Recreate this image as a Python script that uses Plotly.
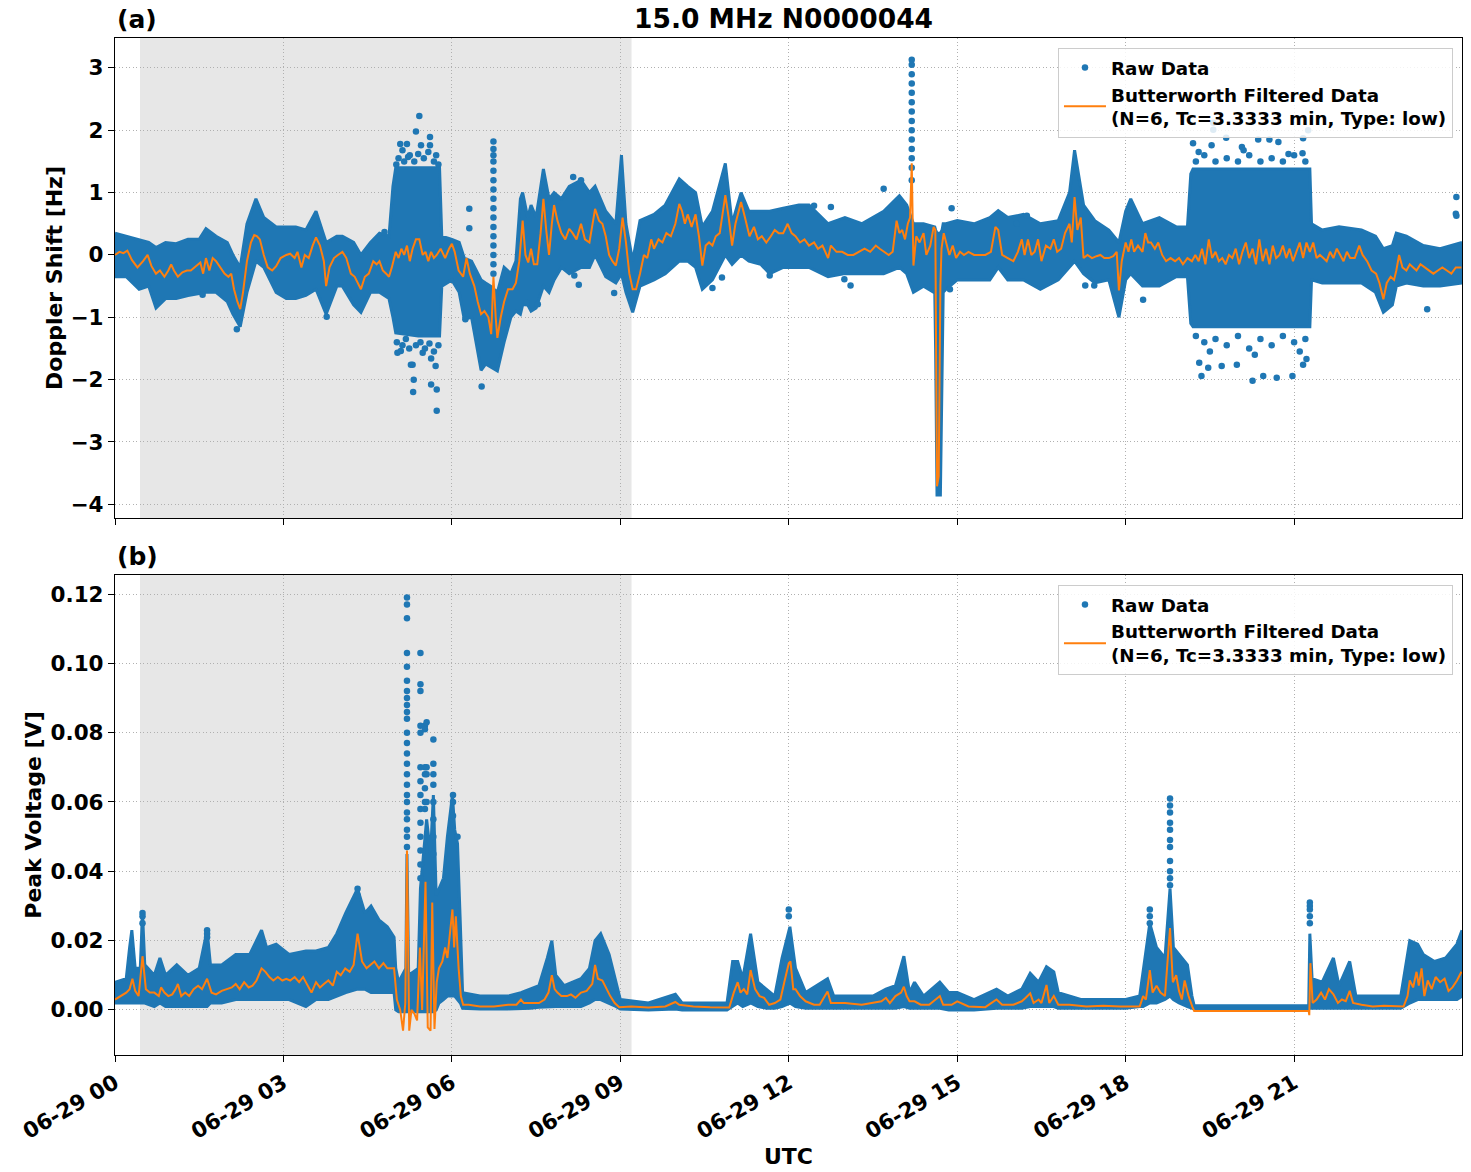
import numpy as np
import pandas as pd
import plotly.graph_objects as go

BASE = pd.Timestamp("2024-06-29 00:00:00")

# ---------------- Panel (a): Doppler shift ----------------
# raw-data envelope (hours, lower edge, upper edge)
BAND_A_T = [0.00, 0.20, 0.43, 0.60, 0.73, 0.90, 1.09, 1.30, 1.50, 1.62, 1.80, 2.00, 2.10, 2.23, 2.35, 2.51,
            2.65, 2.87, 3.05, 3.22, 3.40, 3.58, 3.76, 3.95, 4.05, 4.25, 4.38, 4.55, 4.71, 4.88, 4.95, 5.00,
            5.40, 5.78, 5.82, 6.00, 6.13, 6.22, 6.35, 6.52, 6.60, 6.69, 6.81, 6.93, 7.05,
            7.14, 7.22, 7.26, 7.35, 7.41, 7.50, 7.63, 7.73, 7.82, 7.95, 8.09, 8.30, 8.45, 8.55, 8.74, 8.92,
            9.02, 9.10, 9.22, 9.35, 9.60, 9.80, 10.05, 10.20, 10.34, 10.46, 10.64, 10.87, 10.99, 11.15,
            11.29, 11.50, 11.66, 11.90, 12.18, 12.36, 12.70, 13.00, 13.30, 13.69, 13.97, 14.10, 14.22,
            14.40, 14.58, 14.60, 14.615, 14.64, 14.70, 14.73, 14.75, 14.80, 15.00, 15.30, 15.58, 15.73, 15.90, 16.18, 16.48,
            16.80, 17.00, 17.09, 17.25, 17.45, 17.70, 17.88, 18.00, 18.09, 18.30, 18.60, 18.90, 19.10,
            19.16, 19.20, 21.28, 21.31, 21.50, 21.80, 22.20, 22.45, 22.59, 22.75, 22.82, 23.00, 23.30,
            23.60, 23.99]
BAND_A_LO = [-0.35, -0.35, -0.55, -0.50, -0.85, -0.70, -0.70, -0.65, -0.62, -0.60, -0.60, -0.75, -0.95, -1.15, -0.60, -0.10,
             -0.20, -0.60, -0.70, -0.70, -0.65, -0.55, -0.95, -0.50, -0.50, -0.80, -0.92, -0.60, -0.60, -0.70, -1.00, -1.25,
             -1.30, -1.30, -0.50, -0.40, -0.60, -1.03, -1.00, -1.85, -1.75, -1.80, -1.86, -1.40, -1.00,
             -0.90, -0.95, -0.80, -0.80, -0.90, -0.85, -0.50, -0.60, -0.40, -0.20, -0.30, -0.20, -0.20, 0.00, -0.35, -0.45,
             -0.30, -0.60, -0.92, -0.50, -0.40, -0.30, -0.10, -0.10, -0.20, -0.55, -0.40, 0.00, -0.15, 0.00,
             -0.10, -0.15, -0.30, -0.20, -0.20, -0.20, -0.35, -0.30, -0.30, -0.30, -0.20, -0.30, -0.60,
             -0.50, -0.60, -0.60, -1.50, -3.85, -3.85, -1.50, -0.60, -0.55, -0.40, -0.40, -0.40, -0.20, -0.40, -0.40, -0.55,
             -0.40, -0.20, -0.10, -0.30, -0.45, -0.40, -1.00, -0.40, -0.30, -0.50, -0.50, -0.35, -0.35,
             -1.10, -1.15, -1.15, -0.40, -0.45, -0.45, -0.45, -0.60, -0.92, -0.80, -0.50, -0.45, -0.50,
             -0.50, -0.45]
BAND_A_HI = [0.35, 0.30, 0.25, 0.20, 0.12, 0.20, 0.18, 0.25, 0.25, 0.42, 0.30, 0.20, 0.00, -0.20, 0.50, 0.90,
             0.60, 0.45, 0.45, 0.45, 0.40, 0.70, 0.20, 0.30, 0.30, 0.20, 0.00, 0.20, 0.35, 0.30, 1.10, 1.40,
             1.40, 1.40, 0.30, 0.25, 0.20, -0.05, -0.10, -0.40, -0.45, -0.50, -0.60, -0.20, -0.30,
             -0.10, 0.90, 1.00, 0.60, 0.80, 0.60, 1.38, 0.90, 1.00, 0.90, 1.10, 1.20, 1.00, 1.10, 0.70, 0.50,
             1.60, 0.50, -0.10, 0.55, 0.65, 0.80, 1.22, 1.10, 1.00, 0.45, 0.70, 1.47, 0.50, 1.00,
             0.70, 0.70, 0.70, 0.75, 0.80, 0.80, 0.50, 0.60, 0.50, 0.70, 0.95, 0.80, 0.50,
             0.50, 0.45, 0.45, 0.40, 0.35, 0.35, 0.40, 0.50, 0.50, 0.55, 0.50, 0.60, 0.71, 0.60, 0.65, 0.50,
             0.55, 1.00, 1.68, 0.80, 0.55, 0.40, 0.20, 0.70, 0.90, 0.50, 0.60, 0.45, 0.45,
             1.30, 1.38, 1.38, 0.50, 0.40, 0.45, 0.40, 0.30, 0.10, 0.15, 0.35, 0.30, 0.15,
             0.10, 0.20]
# isolated raw points (hours, Hz)
PTS_A_T = [5.42, 5.36, 5.61, 5.08, 5.20, 5.45, 5.61, 5.72, 5.12, 5.22, 5.03, 5.09, 5.30, 5.32, 5.31, 5.63,
           5.73, 5.73, 5.71, 5.63, 5.48, 5.27, 2.17, 1.56, 3.77, 4.80,
           5.05, 5.15, 5.25, 5.33, 5.50, 5.58, 5.68, 5.76, 5.01, 5.40,
           5.02, 5.12, 5.18, 5.24, 5.36, 5.44, 5.52, 5.60, 5.68, 5.76,
           6.31, 6.31, 6.53, 6.24, 8.16, 8.30, 8.18, 8.26, 8.89, 10.64, 10.81, 11.66, 7.33, 7.53,
           6.74, 6.74, 6.74, 6.74, 6.74, 6.74, 6.74, 6.74, 6.74, 6.74, 6.74, 6.74, 6.74, 6.74, 6.74, 6.74,
           13.69, 13.10, 12.99, 14.87, 14.90, 17.28, 17.44, 16.24, 16.06, 12.75, 12.45,
           14.19, 14.19, 14.19, 14.19, 14.19, 14.19, 14.19, 14.19, 14.19, 14.19, 14.19, 14.19, 14.19, 14.19,
           19.20, 19.56, 19.56, 21.16, 21.25, 19.53, 19.79, 20.07, 20.36, 20.56, 20.72, 21.15,
           19.35, 19.47, 20.26, 20.69, 20.97, 21.16, 21.22, 19.98, 20.45, 19.71, 19.31,
           19.25, 19.40, 19.60, 19.80, 20.00, 20.20, 20.40, 20.60, 20.80, 21.00, 21.20, 19.30, 20.10, 20.90,
           19.25, 19.40, 19.60, 19.80, 20.00, 20.20, 20.40, 20.60, 20.80, 21.00, 21.20, 19.50, 20.30, 21.10,
           18.31, 23.37, 23.89, 23.89, 23.88]
PTS_A_V = [2.23, 1.98, 1.89, 1.78, 1.78, 1.76, 1.76, 1.60, 1.68, 1.57, -1.57, -1.54, -1.76, -2.00, -2.20, -2.08,
           -2.16, -2.50, -1.78, -1.66, -1.57, -1.76, -1.19, -0.64, -0.99, 0.37,
           1.55, 1.50, 1.60, 1.50, 1.55, 1.65, 1.50, 1.45, 1.45, 1.62,
           -1.40, -1.45, -1.35, -1.50, -1.45, -1.40, -1.50, -1.42, -1.55, -1.45,
           0.74, 0.43, -2.11, -1.03, 1.25, 1.20, -0.33, -0.48, -0.61, -0.53, -0.36, -0.33, -0.77, -0.79,
           1.82, 1.70, 1.60, 1.50, 1.35, 1.20, 1.05, 0.90, 0.75, 0.60, 0.45, 0.30, 0.15, 0.00, -0.15, -0.30,
           1.06, -0.49, -0.39, -0.55, 0.75, -0.49, -0.49, 0.63, 0.50, 0.77, 0.79,
           3.13, 3.05, 2.90, 2.75, 2.60, 2.45, 2.30, 2.15, 2.00, 1.85, 1.70, 1.55, 1.40, 1.20,
           1.79, 2.01, 2.12, 1.87, 2.00, 1.76, 1.88, 1.73, 1.85, 1.85, 1.81, 1.63,
           -1.94, -1.81, -2.02, -1.97, -1.94, -1.76, -1.67, -1.76, -1.94, -1.78, -1.73,
           1.50, 1.60, 1.50, 1.55, 1.50, 1.60, 1.50, 1.55, 1.50, 1.60, 1.50, 1.65, 1.68, 1.62,
           -1.30, -1.40, -1.35, -1.45, -1.30, -1.50, -1.35, -1.45, -1.30, -1.40, -1.35, -1.55, -1.60, -1.55,
           -0.72, -0.87, 0.93, 0.63, 0.66]
# Butterworth filtered curve (hours, Hz)
FILT_A_T = [0.00, 0.08, 0.15, 0.22, 0.30, 0.40, 0.50, 0.58, 0.65, 0.73, 0.80, 0.88, 0.95, 1.00, 1.05, 1.12,
            1.20, 1.28, 1.35, 1.45, 1.52, 1.57, 1.62, 1.68, 1.74, 1.80, 1.88, 1.95, 2.02, 2.07, 2.12, 2.18,
            2.23, 2.28, 2.35, 2.42, 2.48, 2.53, 2.58, 2.65, 2.72, 2.80, 2.87, 2.95, 3.05, 3.12, 3.20, 3.25,
            3.32, 3.38, 3.45, 3.52, 3.58, 3.65, 3.72, 3.76, 3.82, 3.90, 3.97, 4.05, 4.12, 4.20, 4.27, 4.33,
            4.38, 4.45, 4.52, 4.60, 4.66, 4.71, 4.77, 4.83, 4.88, 4.93, 5.00, 5.05, 5.10, 5.15, 5.20, 5.25,
            5.30, 5.36, 5.42, 5.48, 5.53, 5.58, 5.63, 5.68, 5.73, 5.80, 5.88, 5.95, 6.00, 6.05, 6.12, 6.20,
            6.26, 6.32, 6.40, 6.46, 6.52, 6.58, 6.65, 6.70, 6.74, 6.78, 6.81, 6.87, 6.93, 7.00, 7.08, 7.14,
            7.20, 7.26, 7.31, 7.36, 7.41, 7.46, 7.52, 7.58, 7.63, 7.68, 7.73, 7.78, 7.82, 7.88, 7.95, 8.02,
            8.09, 8.15, 8.22, 8.30, 8.37, 8.45, 8.55, 8.62, 8.68, 8.74, 8.80, 8.86, 8.92, 8.98, 9.04, 9.10,
            9.16, 9.22, 9.28, 9.35, 9.42, 9.48, 9.55, 9.60, 9.68, 9.75, 9.82, 9.90, 9.98, 10.05, 10.10, 10.15,
            10.20, 10.27, 10.34, 10.40, 10.46, 10.52, 10.58, 10.64, 10.70, 10.77, 10.87, 10.93, 10.99, 11.05,
            11.15, 11.22, 11.30, 11.38, 11.45, 11.52, 11.60, 11.68, 11.75, 11.82, 11.90, 11.98, 12.05, 12.12,
            12.20, 12.28, 12.36, 12.45, 12.52, 12.60, 12.70, 12.75, 12.85, 12.95, 13.05, 13.15, 13.25, 13.35,
            13.45, 13.55, 13.62, 13.70, 13.78, 13.85, 13.92, 13.97, 14.02, 14.07, 14.12, 14.16, 14.19, 14.22,
            14.27, 14.33, 14.40, 14.45, 14.52, 14.58, 14.61, 14.64, 14.67, 14.70, 14.72, 14.76, 14.80, 14.86, 14.92, 14.98,
            15.05, 15.12, 15.20, 15.30, 15.40, 15.50, 15.60, 15.68, 15.73, 15.80, 15.90, 16.00, 16.08, 16.15,
            16.20, 16.26, 16.32, 16.38, 16.44, 16.50, 16.58, 16.66, 16.72, 16.78, 16.85, 16.92, 17.00, 17.04,
            17.09, 17.14, 17.20, 17.25, 17.32, 17.40, 17.48, 17.55, 17.62, 17.70, 17.78, 17.84, 17.88, 17.93,
            18.00, 18.05, 18.10, 18.15, 18.22, 18.30, 18.35, 18.40, 18.45, 18.52, 18.58, 18.65, 18.72, 18.80,
            18.88, 18.95, 19.02, 19.10, 19.18, 19.24, 19.30, 19.36, 19.42, 19.48, 19.54, 19.60, 19.66, 19.72,
            19.78, 19.84, 19.90, 19.96, 20.02, 20.08, 20.14, 20.20, 20.26, 20.32, 20.38, 20.44, 20.50, 20.56,
            20.62, 20.68, 20.74, 20.80, 20.86, 20.92, 20.98, 21.04, 21.10, 21.16, 21.22, 21.28, 21.34, 21.40,
            21.46, 21.52, 21.58, 21.64, 21.70, 21.76, 21.82, 21.88, 21.94, 22.00, 22.08, 22.16, 22.22, 22.30,
            22.38, 22.46, 22.52, 22.59, 22.65, 22.72, 22.78, 22.82, 22.87, 22.93, 23.00, 23.06, 23.12, 23.18,
            23.25, 23.32, 23.40, 23.48, 23.56, 23.64, 23.72, 23.80, 23.88, 23.98]
FILT_A_V = [0.00, 0.05, 0.03, 0.07, -0.08, -0.20, -0.10, 0.00, -0.18, -0.30, -0.25, -0.35, -0.25, -0.15, -0.25, -0.35,
            -0.28, -0.25, -0.25, -0.18, -0.12, -0.30, -0.05, -0.25, -0.05, -0.10, -0.20, -0.30, -0.35, -0.30, -0.55, -0.75,
            -0.87, -0.60, -0.10, 0.20, 0.32, 0.30, 0.25, 0.00, -0.20, -0.25, -0.18, -0.05, 0.00, 0.02, -0.05, 0.05,
            -0.20, 0.00, -0.05, 0.15, 0.28, 0.15, -0.10, -0.50, -0.20, -0.05, 0.00, 0.05, -0.05, -0.30, -0.35, -0.45,
            -0.55, -0.35, -0.30, -0.10, -0.15, -0.10, -0.25, -0.30, -0.35, -0.20, 0.05, -0.05, 0.10, 0.00, 0.15, -0.10,
            0.10, 0.25, 0.25, 0.00, 0.05, -0.10, 0.05, -0.05, 0.00, 0.10, -0.05, 0.10, 0.18, 0.05, -0.25, -0.35,
            -0.05, -0.30, -0.50, -0.75, -0.95, -0.90, -1.00, -1.27, -0.35, -1.00, -1.33, -1.00, -0.75, -0.55, -0.55, -0.45,
            -0.10, 0.55, 0.00, -0.12, 0.10, -0.15, -0.15, 0.35, 0.90, 0.40, 0.00, 0.50, 0.80, 0.55, 0.35, 0.25,
            0.42, 0.35, 0.25, 0.50, 0.25, 0.20, 0.74, 0.55, 0.50, 0.30, 0.00, -0.10, -0.17, 0.10, 0.60, 0.20,
            -0.30, -0.55, -0.55, -0.30, 0.00, -0.05, 0.25, 0.10, 0.25, 0.20, 0.35, 0.30, 0.50, 0.82, 0.70, 0.50,
            0.65, 0.45, 0.65, 0.30, -0.17, 0.15, 0.20, 0.15, 0.30, 0.35, 0.96, 0.60, 0.15, 0.50,
            0.85, 0.60, 0.30, 0.45, 0.25, 0.30, 0.20, 0.30, 0.40, 0.35, 0.35, 0.50, 0.35, 0.30,
            0.20, 0.25, 0.15, 0.20, 0.10, 0.15, -0.05, 0.15, 0.05, 0.05, 0.00, 0.00, 0.05, 0.10,
            0.05, 0.15, 0.10, 0.05, 0.00, 0.05, 0.55, 0.35, 0.40, 0.25, 0.50, 0.60, 1.47, -0.17,
            0.30, 0.20, 0.35, 0.00, 0.15, 0.45, 0.40, -3.71, -3.55, -0.50, 0.10, 0.35, 0.20, 0.00, 0.15, -0.05,
            0.05, 0.00, 0.05, 0.00, 0.00, 0.00, 0.05, 0.45, 0.40, 0.00, -0.05, -0.10, 0.05, 0.25,
            0.00, 0.25, 0.00, 0.05, 0.25, -0.10, 0.15, 0.10, 0.25, 0.05, 0.10, 0.35, 0.50, 0.20,
            0.93, 0.40, 0.60, -0.05, 0.00, -0.05, -0.02, 0.00, -0.05, -0.05, -0.02, 0.05, -0.57, -0.10,
            0.20, 0.05, 0.25, 0.05, 0.15, 0.05, 0.35, 0.20, 0.20, 0.10, 0.20, 0.00, -0.10, -0.05,
            -0.10, -0.05, -0.15, -0.05, -0.10, 0.00, -0.10, 0.10, -0.15, 0.25, -0.05, 0.05, -0.10, -0.05,
            -0.15, 0.00, -0.05, 0.10, -0.15, 0.05, 0.20, -0.05, 0.10, -0.15, 0.25, -0.10, 0.10, -0.15,
            0.15, -0.05, 0.00, 0.15, -0.05, 0.10, -0.10, 0.05, 0.20, -0.05, 0.20, 0.05, 0.20, -0.05,
            0.00, -0.05, -0.10, 0.05, -0.05, 0.10, 0.00, -0.10, 0.05, -0.05, -0.05, 0.15, 0.00, -0.10,
            -0.25, -0.30, -0.45, -0.71, -0.45, -0.35, -0.40, -0.25, 0.00, -0.20, -0.25, -0.15, -0.20, -0.25,
            -0.15, -0.20, -0.25, -0.30, -0.25, -0.20, -0.25, -0.30, -0.20, -0.20]

# ---------------- Panel (b): Peak voltage ----------------
BAND_B_T = [0.00, 0.20, 0.26, 0.30, 0.36, 0.45, 0.49, 0.53, 0.70, 0.80, 0.90, 1.10, 1.30, 1.50, 1.64, 1.70,
            1.90, 2.15, 2.40, 2.61, 2.70, 2.87, 3.10, 3.40, 3.58, 3.80, 3.95, 4.11, 4.32, 4.45, 4.56, 4.70,
            4.85, 4.97, 5.00, 5.05, 5.18, 5.20, 5.23, 5.40, 5.44, 5.50, 5.55, 5.62, 5.67, 5.72, 5.77, 5.85,
            5.92, 6.01, 6.05, 6.10, 6.15, 6.19, 6.50, 7.00, 7.23, 7.40, 7.55, 7.70, 7.78, 7.85, 8.00, 8.30,
            8.45, 8.55, 8.65, 8.80, 8.92, 9.00, 9.50, 9.98, 10.10, 10.90, 11.00, 11.09, 11.18, 11.32, 11.45,
            11.60, 11.75, 11.88, 12.02, 12.12, 12.30, 12.69, 12.80, 13.50, 13.73, 13.90, 14.05, 14.15, 14.24,
            14.40, 14.69, 14.85, 15.00, 15.30, 15.70, 15.90, 16.15, 16.30, 16.45, 16.59, 16.72, 16.80, 17.20,
            17.60, 18.00, 18.25, 18.31, 18.43, 18.55, 18.70, 18.79, 18.85, 18.95, 19.10, 19.18, 19.22, 21.26,
            21.28, 21.32, 21.50, 21.70, 21.80, 21.99, 22.10, 22.90, 23.06, 23.20, 23.30, 23.50, 23.70, 23.90,
            23.99]
BAND_B_LO = [0.002, 0.002, 0.002, 0.002, 0.002, 0.002, 0.002, 0.002, 0.001, 0.002, 0.001, 0.001, 0.001, 0.001, 0.001, 0.002,
             0.002, 0.003, 0.003, 0.003, 0.003, 0.003, 0.003, 0.001, 0.003, 0.003, 0.004, 0.005, 0.006, 0.006, 0.005, 0.005,
             0.005, 0.005, 0.000, -0.0005, -0.0005, -0.0005, -0.0005, -0.0005, -0.0005, -0.0005, -0.0005, -0.0005, -0.0005, 0.000, 0.002, 0.003,
             0.004, 0.004, 0.004, 0.003, 0.002, 0.0005, 0.0003, 0.0003, 0.0003, 0.0005, 0.0008, 0.001, 0.001, 0.001, 0.001, 0.001,
             0.002, 0.003, 0.003, 0.002, 0.001, 0.0003, 0.000, 0.0003, 0.000, 0.000, 0.001, 0.002, 0.001, 0.002, 0.001,
             0.0005, 0.0005, 0.001, 0.002, 0.001, 0.0005, 0.0005, 0.0005, 0.0005, 0.0005, 0.0005, 0.001, 0.0005, 0.0005,
             0.0005, 0.0005, 0.000, 0.000, 0.000, 0.0005, 0.0005, 0.0005, 0.001, 0.001, 0.001, 0.001, 0.0005, 0.0005,
             0.0005, 0.0005, 0.001, 0.001, 0.002, 0.002, 0.003, 0.004, 0.003, 0.002, 0.001, 0.0005, 0.0003, 0.0003,
             0.0005, 0.0005, 0.0005, 0.0005, 0.0005, 0.0005, 0.0005, 0.0005, 0.002, 0.003, 0.003, 0.003, 0.003, 0.003,
             0.004]
BAND_B_HI = [0.008, 0.009, 0.018, 0.023, 0.012, 0.012, 0.028, 0.013, 0.010, 0.015, 0.010, 0.013, 0.010, 0.012, 0.023, 0.013,
             0.013, 0.016, 0.016, 0.023, 0.018, 0.019, 0.016, 0.017, 0.017, 0.018, 0.022, 0.028, 0.035, 0.028, 0.030, 0.026,
             0.024, 0.021, 0.012, 0.008, 0.012, 0.045, 0.010, 0.012, 0.035, 0.045, 0.055, 0.045, 0.062, 0.033, 0.035, 0.038,
             0.050, 0.062, 0.052, 0.048, 0.025, 0.005, 0.004, 0.004, 0.005, 0.006, 0.007, 0.015, 0.020, 0.010, 0.007, 0.009,
             0.012, 0.020, 0.022, 0.016, 0.008, 0.003, 0.002, 0.0045, 0.002, 0.002, 0.014, 0.014, 0.009, 0.022, 0.008,
             0.006, 0.004, 0.015, 0.024, 0.012, 0.005, 0.009, 0.004, 0.004, 0.006, 0.007, 0.0155, 0.005, 0.008,
             0.004, 0.008, 0.005, 0.005, 0.003, 0.006, 0.004, 0.006, 0.0106, 0.008, 0.0125, 0.011, 0.005, 0.003,
             0.003, 0.003, 0.004, 0.011, 0.025, 0.018, 0.015, 0.035, 0.018, 0.016, 0.013, 0.004, 0.0012, 0.0012,
             0.022, 0.009, 0.008, 0.015, 0.007, 0.014, 0.004, 0.004, 0.020, 0.019, 0.016, 0.014, 0.015, 0.019,
             0.023]
PTS_B_T = [5.20] * 24 + [5.44] * 14 + [5.52] * 7 + [5.55] * 4 + [5.67] * 8 + [6.02, 6.02, 6.02, 6.10] \
          + [12.00, 12.00] + [18.43, 18.43, 18.43] + [18.79] * 11 + [21.28] * 5 \
          + [0.49, 0.49, 0.49, 1.64, 1.64, 1.64, 4.32, 4.32]
PTS_B_V = [0.119, 0.117, 0.113, 0.103, 0.099, 0.095, 0.092, 0.090, 0.088, 0.086, 0.084, 0.080, 0.077, 0.074,
           0.071, 0.068, 0.065, 0.062, 0.060, 0.057, 0.055, 0.052, 0.050, 0.047,
           0.103, 0.094, 0.092, 0.082, 0.080, 0.070, 0.066, 0.062, 0.058, 0.054, 0.050, 0.046, 0.042, 0.038,
           0.082, 0.081, 0.070, 0.068, 0.064, 0.060, 0.058,
           0.083, 0.070, 0.068, 0.060,
           0.078, 0.071, 0.068, 0.065, 0.060, 0.055, 0.050, 0.045,
           0.062, 0.060, 0.056, 0.050,
           0.029, 0.027,
           0.029, 0.027, 0.025,
           0.061, 0.059, 0.057, 0.054, 0.052, 0.049, 0.047, 0.043, 0.040, 0.038, 0.036,
           0.031, 0.030, 0.029, 0.027, 0.025,
           0.028, 0.027, 0.025, 0.023, 0.022, 0.021, 0.035, 0.033]
FILT_B_T = [0.00, 0.10, 0.20, 0.26, 0.31, 0.36, 0.42, 0.49, 0.55, 0.62, 0.70, 0.78, 0.82, 0.88, 0.95, 1.02,
            1.08, 1.12, 1.18, 1.25, 1.32, 1.40, 1.48, 1.55, 1.64, 1.72, 1.80, 1.90, 2.00, 2.08, 2.15, 2.22,
            2.30, 2.38, 2.45, 2.52, 2.61, 2.68, 2.75, 2.82, 2.90, 2.98, 3.05, 3.12, 3.20, 3.28, 3.35, 3.42,
            3.50, 3.58, 3.65, 3.72, 3.80, 3.88, 3.95, 4.02, 4.10, 4.18, 4.25, 4.32, 4.40, 4.48, 4.55, 4.62,
            4.70, 4.78, 4.85, 4.92, 4.97, 5.02, 5.08, 5.13, 5.17, 5.20, 5.24, 5.28, 5.33, 5.38, 5.43, 5.47,
            5.50, 5.53, 5.57, 5.62, 5.65, 5.69, 5.73, 5.77, 5.83, 5.88, 5.92, 5.97, 6.01, 6.04, 6.07, 6.12,
            6.16, 6.20, 6.30, 6.50, 6.75, 7.00, 7.15, 7.23, 7.28, 7.40, 7.55, 7.65, 7.72, 7.78, 7.83, 7.88,
            7.95, 8.05, 8.12, 8.20, 8.30, 8.40, 8.50, 8.55, 8.60, 8.68, 8.75, 8.82, 8.90, 8.98, 9.20, 9.50,
            9.80, 9.98, 10.05, 10.30, 10.60, 10.94, 11.02, 11.09, 11.14, 11.20, 11.26, 11.32, 11.40, 11.48,
            11.56, 11.65, 11.75, 11.85, 11.92, 12.00, 12.03, 12.08, 12.12, 12.20, 12.30, 12.45, 12.55, 12.69,
            12.75, 13.00, 13.30, 13.50, 13.65, 13.73, 13.80, 13.90, 14.00, 14.05, 14.10, 14.15, 14.24, 14.35,
            14.50, 14.69, 14.75, 14.90, 15.00, 15.20, 15.50, 15.70, 15.80, 16.00, 16.15, 16.22, 16.30, 16.36,
            16.45, 16.50, 16.59, 16.64, 16.72, 16.80, 17.00, 17.30, 17.60, 17.90, 18.10, 18.25, 18.31, 18.36,
            18.43, 18.48, 18.55, 18.62, 18.70, 18.79, 18.84, 18.90, 18.95, 19.00, 19.05, 19.12, 19.19, 19.22,
            21.26, 21.27, 21.29, 21.33, 21.40, 21.48, 21.55, 21.62, 21.70, 21.78, 21.85, 21.92, 21.99, 22.05,
            22.20, 22.40, 22.60, 22.80, 22.95, 23.02, 23.06, 23.12, 23.18, 23.22, 23.27, 23.32, 23.38, 23.45,
            23.52, 23.60, 23.68, 23.75, 23.82, 23.90, 23.98]
FILT_B_V = [0.003, 0.004, 0.005, 0.006, 0.009, 0.0055, 0.004, 0.0155, 0.006, 0.005, 0.005, 0.004, 0.0065, 0.005, 0.004, 0.0045,
            0.006, 0.0075, 0.004, 0.005, 0.004, 0.006, 0.007, 0.006, 0.009, 0.005, 0.0045, 0.0055, 0.006, 0.0065, 0.0075, 0.006,
            0.008, 0.0065, 0.007, 0.0085, 0.012, 0.011, 0.0095, 0.0085, 0.0095, 0.0085, 0.009, 0.0085, 0.0095, 0.008, 0.0095, 0.0075,
            0.005, 0.008, 0.0065, 0.0075, 0.0085, 0.007, 0.011, 0.010, 0.012, 0.011, 0.013, 0.022, 0.014, 0.012, 0.013, 0.014,
            0.012, 0.0135, 0.012, 0.012, 0.012, 0.003, 0.000, -0.006, 0.002, 0.046, -0.006, 0.000, -0.001, -0.003, 0.018, 0.000,
            0.022, 0.037, -0.005, -0.006, 0.031, -0.0055, 0.008, 0.012, 0.014, 0.018, 0.015, 0.022, 0.029, 0.018, 0.027, 0.012,
            0.004, 0.0015, 0.0015, 0.001, 0.001, 0.0015, 0.0015, 0.003, 0.002, 0.002, 0.002, 0.003, 0.005, 0.010, 0.006, 0.005,
            0.004, 0.004, 0.0045, 0.0035, 0.005, 0.0055, 0.0075, 0.013, 0.009, 0.0085, 0.006, 0.004, 0.002, 0.0008, 0.001, 0.0007,
            0.001, 0.0023, 0.0015, 0.001, 0.0008, 0.0007, 0.005, 0.008, 0.005, 0.006, 0.0045, 0.0115, 0.006, 0.004,
            0.0035, 0.0015, 0.002, 0.003, 0.008, 0.0135, 0.014, 0.006, 0.006, 0.004, 0.0025, 0.0015, 0.0015, 0.0053,
            0.002, 0.002, 0.0015, 0.002, 0.0025, 0.0035, 0.002, 0.004, 0.005, 0.0067, 0.004, 0.0025, 0.0025, 0.0015,
            0.0015, 0.004, 0.0015, 0.0015, 0.0025, 0.001, 0.0008, 0.003, 0.0015, 0.0015, 0.0025, 0.0035, 0.0048, 0.002,
            0.003, 0.002, 0.0072, 0.002, 0.004, 0.0015, 0.0015, 0.001, 0.0012, 0.001, 0.001, 0.001, 0.004, 0.003,
            0.0115, 0.005, 0.007, 0.005, 0.004, 0.0236, 0.008, 0.010, 0.0055, 0.003, 0.0085, 0.004, 0.0008, -0.0003,
            -0.0003, -0.0015, 0.0135, 0.002, 0.003, 0.005, 0.003, 0.006, 0.0045, 0.002, 0.003, 0.0025, 0.0055, 0.002,
            0.0015, 0.001, 0.0012, 0.001, 0.001, 0.004, 0.0085, 0.0065, 0.011, 0.007, 0.012, 0.004, 0.0085, 0.006,
            0.0095, 0.008, 0.009, 0.0055, 0.0065, 0.0085, 0.011]

NIGHT_START_H = 0.445
NIGHT_END_H = 9.20
TITLE = "15.0 MHz N0000044"
FILT_LABEL = "Butterworth Filtered Data<br>(N=6, Tc=3.3333 min, Type: low)"


def ts(hours):
    return BASE + pd.to_timedelta(np.asarray(hours, dtype=float), unit="h")


BLUE = "#1f77b4"
ORANGE = "#ff7f0e"
FONT = "DejaVu Sans"

fig = go.Figure()


def add_panel(xa, ya, leg, bt, blo, bhi, pt, pv, ft, fv):
    fig.add_trace(go.Scatter(x=ts(bt), y=blo, mode="lines", line=dict(color=BLUE, width=3),
                             xaxis=xa, yaxis=ya, showlegend=False, hoverinfo="skip"))
    fig.add_trace(go.Scatter(x=ts(bt), y=bhi, mode="lines", line=dict(color=BLUE, width=3),
                             fill="tonexty", fillcolor=BLUE,
                             xaxis=xa, yaxis=ya, showlegend=False, hoverinfo="skip"))
    fig.add_trace(go.Scatter(x=ts(pt), y=pv, mode="markers", name="Raw Data",
                             marker=dict(color=BLUE, size=6.5), xaxis=xa, yaxis=ya, legend=leg))
    fig.add_trace(go.Scatter(x=ts(ft), y=fv, mode="lines", name=FILT_LABEL,
                             line=dict(color=ORANGE, width=2), xaxis=xa, yaxis=ya, legend=leg))


add_panel("x", "y", "legend", BAND_A_T, BAND_A_LO, BAND_A_HI, PTS_A_T, PTS_A_V, FILT_A_T, FILT_A_V)
add_panel("x2", "y2", "legend2", BAND_B_T, BAND_B_LO, BAND_B_HI, PTS_B_T, PTS_B_V, FILT_B_T, FILT_B_V)

tick_font = dict(family=FONT, size=21.5, color="black", weight="bold")
title_font = dict(family=FONT, size=22, color="black", weight="bold")
x_range = [BASE, BASE + pd.Timedelta(hours=23.99)]
GRID = dict(showgrid=True, gridcolor="#b0b0b0", griddash="1px,2.5px", gridwidth=1)

common_x = dict(type="date", range=x_range, dtick=3 * 3600 * 1000, tick0=BASE, tickformat="%m-%d %H",
                showline=True, mirror=True, linecolor="black", linewidth=1.3,
                ticks="outside", ticklen=6, tickwidth=1.2, tickcolor="black",
                tickfont=tick_font, zeroline=False, **GRID)
common_y = dict(showline=True, mirror=True, linecolor="black", linewidth=1.3,
                ticks="outside", ticklen=6, tickwidth=1.2, tickcolor="black",
                tickfont=tick_font, zeroline=False, **GRID)

legend_common = dict(xanchor="right", yanchor="top", bgcolor="rgba(255,255,255,0.85)",
                     bordercolor="#cccccc", borderwidth=1, itemwidth=42, traceorder="normal",
                     font=dict(family=FONT, size=18.3, color="black", weight="bold"))

fig.update_layout(
    width=1471, height=1172,
    margin=dict(l=115, r=9, t=38, b=117),
    paper_bgcolor="white", plot_bgcolor="white",
    font=dict(family=FONT, color="black"),
    xaxis=dict(common_x, anchor="y", domain=[0, 1], showticklabels=False),
    yaxis=dict(common_y, anchor="x", domain=[0.528, 1], range=[-4.22, 3.48], dtick=1,
               title=dict(text="Doppler Shift [Hz]", font=title_font, standoff=1)),
    xaxis2=dict(common_x, anchor="y2", domain=[0, 1], matches="x", tickangle=-30,
                title=dict(text="UTC", font=title_font, standoff=0)),
    yaxis2=dict(common_y, anchor="x2", domain=[0, 0.472], range=[-0.013, 0.1255], dtick=0.02,
                tickformat=".2f",
                title=dict(text="Peak Voltage [V]", font=title_font, standoff=2)),
    legend=dict(legend_common, x=0.9933, y=0.990),
    legend2=dict(legend_common, x=0.9933, y=0.462),
    shapes=[
        dict(type="rect", xref="x", yref="y domain", x0=ts([NIGHT_START_H])[0], x1=ts([NIGHT_END_H])[0],
             y0=0, y1=1, fillcolor="rgba(0,0,0,0.095)", line=dict(width=0), layer="below"),
        dict(type="rect", xref="x2", yref="y2 domain", x0=ts([NIGHT_START_H])[0], x1=ts([NIGHT_END_H])[0],
             y0=0, y1=1, fillcolor="rgba(0,0,0,0.095)", line=dict(width=0), layer="below"),
    ],
    annotations=[
        dict(text="(a)", xref="paper", yref="paper", x=0, y=1, xanchor="left", yanchor="bottom",
             yshift=2, showarrow=False, font=dict(family=FONT, size=25, color="black", weight="bold")),
        dict(text=TITLE, xref="paper", yref="paper", x=0.496, y=1, xanchor="center", yanchor="bottom",
             yshift=2, showarrow=False, font=dict(family=FONT, size=26.5, color="black", weight="bold")),
        dict(text="(b)", xref="paper", yref="paper", x=0, y=0.472, xanchor="left", yanchor="bottom",
             yshift=2, showarrow=False, font=dict(family=FONT, size=25, color="black", weight="bold")),
    ],
)

fig.write_html("out.html")
